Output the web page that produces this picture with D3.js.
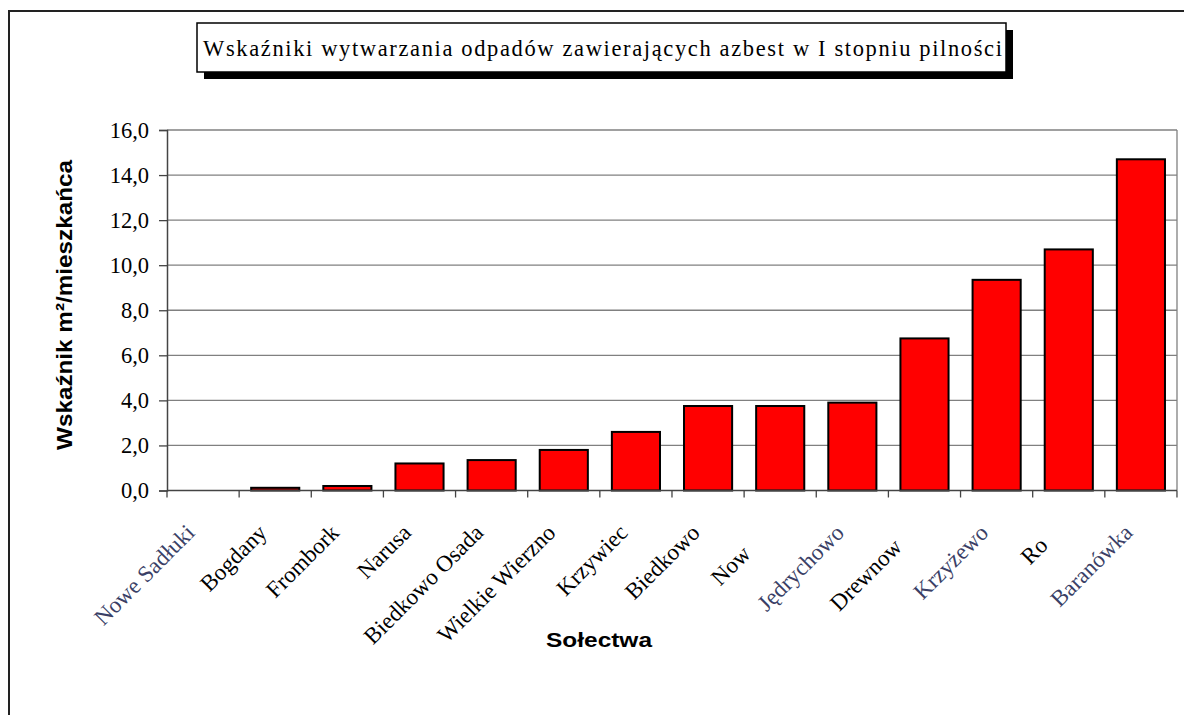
<!DOCTYPE html>
<html>
<head>
<meta charset="utf-8">
<script src="https://cdn.jsdelivr.net/npm/d3@7"></script>
<style>
  html, body { margin: 0; padding: 0; background: #fff; }
  svg { display: block; }
</style>
</head>
<body>
<svg id="chart" width="1184" height="715"></svg>
<script>
// ---- data ----
const categories = ["Nowe Sadłuki", "Bogdany", "Frombork", "Narusa", "Biedkowo Osada", "Wielkie Wierzno", "Krzywiec", "Biedkowo", "Now", "Jędrychowo", "Drewnow", "Krzyżewo", "Ro", "Baranówka"];
const values = [0, 0.12, 0.2, 1.2, 1.35, 1.8, 2.6, 3.75, 3.75, 3.9, 6.75, 9.35, 10.7, 14.7];
const yTickValues = [0, 2, 4, 6, 8, 10, 12, 14, 16];
const imageLabels = ["Nowe Sadłuki", "Jędrychowo", "Krzyżewo", "Baranówka"];
const truncatedShift = { "Now": -30, "Drewnow": -20, "Ro": -18 };
const titleText = "Wskaźniki wytwarzania odpadów zawierających azbest w I stopniu pilności";
const yTitle = "Wskaźnik m²/mieszkańca";
const xTitle = "Sołectwa";

const svg = d3.select("#chart");
const serif = "'Liberation Serif', 'Times New Roman', serif";
const sans = "'Liberation Sans', Arial, sans-serif";

svg.append("rect").attr("width", 1184).attr("height", 715).attr("fill", "#fff");
// outer chart border
svg.append("rect").attr("x", 9).attr("y", 11).attr("width", 1200).attr("height", 720)
  .attr("fill", "none").attr("stroke", "#222").attr("stroke-width", 2);

const plot = { left: 167, right: 1177, top: 130, bottom: 490.5 };

const x = d3.scaleBand().domain(categories).range([plot.left, plot.right])
  .paddingInner(0.333).paddingOuter(0.1667);
const y = d3.scaleLinear().domain([0, 16]).range([plot.bottom, plot.top]);

// gridlines
svg.append("g").selectAll("line").data(yTickValues.filter(d => d > 0)).join("line")
  .attr("x1", plot.left).attr("x2", plot.right)
  .attr("y1", d => y(d)).attr("y2", d => y(d))
  .attr("stroke", "#808080").attr("stroke-width", 1.3);
// right border of plot
svg.append("line").attr("x1", plot.right).attr("x2", plot.right)
  .attr("y1", plot.top).attr("y2", plot.bottom)
  .attr("stroke", "#808080").attr("stroke-width", 1.3);

// bars
svg.append("g").selectAll("rect").data(categories).join("rect")
  .attr("x", d => x(d))
  .attr("width", x.bandwidth())
  .attr("y", (d, i) => y(values[i]))
  .attr("height", (d, i) => y(0) - y(values[i]))
  .attr("fill", (d, i) => values[i] > 0 ? "#ff0000" : "none")
  .attr("stroke", (d, i) => values[i] > 0 ? "#000" : "none")
  .attr("stroke-width", 2);

// y axis
const yAxis = d3.axisLeft(y).tickValues(yTickValues).tickSize(8).tickPadding(10)
  .tickFormat(d => d3.format(".1f")(d).replace(".", ","));
const gy = svg.append("g").attr("transform", `translate(${plot.left},0)`).call(yAxis);
gy.select(".domain").attr("stroke", "#444").attr("stroke-width", 1.5);
gy.selectAll(".tick line").attr("stroke", "#444").attr("stroke-width", 1.3);
gy.selectAll(".tick text").attr("font-family", serif).attr("font-size", 22.5).attr("fill", "#000");

// x axis baseline + ticks at category boundaries
const step = x.step();
const boundaries = d3.range(categories.length + 1).map(i => plot.left + i * step);
svg.append("line").attr("x1", plot.left).attr("x2", plot.right)
  .attr("y1", y(0)).attr("y2", y(0)).attr("stroke", "#444").attr("stroke-width", 1.5);
svg.append("g").selectAll("line").data(boundaries).join("line")
  .attr("x1", d => d).attr("x2", d => d)
  .attr("y1", y(0)).attr("y2", y(0) + 7)
  .attr("stroke", "#444").attr("stroke-width", 1.3);

// x labels rotated
svg.append("g").selectAll("text").data(categories).join("text")
  .attr("transform", d => `translate(${x(d) + x.bandwidth() / 2 - 7},534) rotate(-45)`)
  .attr("dx", d => truncatedShift[d] || 0)
  .attr("text-anchor", "end")
  .attr("font-family", serif).attr("font-size", 23)
  .attr("fill", d => imageLabels.includes(d) ? "#3a3f66" : "#000")
  .text(d => d);

// title box with shadow
svg.append("rect").attr("x", 204).attr("y", 30).attr("width", 809).attr("height", 49).attr("fill", "#000");
svg.append("rect").attr("x", 197).attr("y", 23).attr("width", 809).attr("height", 49)
  .attr("fill", "#fff").attr("stroke", "#000").attr("stroke-width", 1.5);
svg.append("text").attr("x", 203).attr("y", 56)
  .attr("font-family", serif).attr("font-size", 22.5)
  .attr("textLength", 799).attr("lengthAdjust", "spacing")
  .text(titleText);

// y axis title
svg.append("text")
  .attr("transform", "translate(72,305) rotate(-90)")
  .attr("text-anchor", "middle")
  .attr("font-family", sans).attr("font-weight", "bold").attr("font-size", 22)
  .attr("textLength", 290).attr("lengthAdjust", "spacingAndGlyphs")
  .text(yTitle);

// x axis title
svg.append("text").attr("x", 599).attr("y", 647)
  .attr("text-anchor", "middle")
  .attr("font-family", sans).attr("font-weight", "bold").attr("font-size", 21)
  .attr("textLength", 106).attr("lengthAdjust", "spacingAndGlyphs")
  .text(xTitle);
</script>
</body>
</html>
